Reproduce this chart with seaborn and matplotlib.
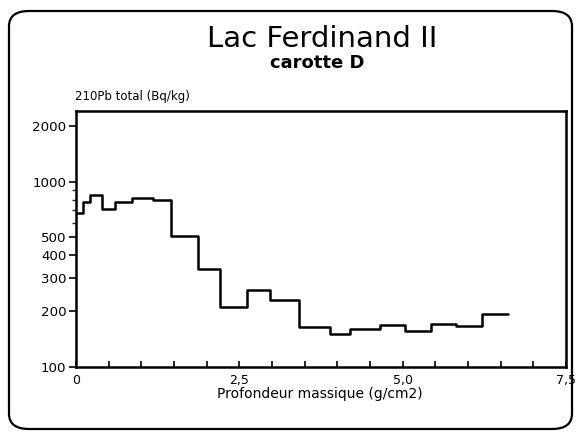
import matplotlib
matplotlib.use("Agg")
import matplotlib.pyplot as plt
from matplotlib.patches import FancyBboxPatch
from matplotlib.ticker import FixedLocator, FixedFormatter, NullFormatter
import numpy as np
import pandas as pd
import seaborn as sns

# Step profile of total 210Pb activity against cumulative mass depth
depth_edges = [0.0, 0.11, 0.21, 0.40, 0.60, 0.86, 1.18, 1.46, 1.87, 2.21, 2.61,
               2.97, 3.42, 3.89, 4.20, 4.66, 5.04, 5.43, 5.81, 6.22, 6.61]
pb210_total = [675, 774, 848, 712, 780, 815, 795, 511, 337, 210, 260,
               229, 163, 150, 160, 167, 155, 170, 166, 192]

y_ticks = [100, 200, 300, 400, 500, 1000, 2000]
y_tick_labels = ["100", "200", "300", "400", "500", "1000", "2000"]
y_minor_ticks = [600, 700, 800, 900]
x_ticks = [0.0, 2.5, 5.0, 7.5]
x_tick_labels = ["0", "2,5", "5,0", "7,5"]
x_minor_ticks = [0.5, 1.0, 1.5, 2.0, 3.0, 3.5, 4.0, 4.5, 5.5, 6.0, 6.5, 7.0]

sns.set_theme(style="white")
plt.rcParams["font.family"] = ["DejaVu Sans"]
plt.rcParams["text.color"] = "black"

W, H = 576, 436
fig = plt.figure(figsize=(W / 100, H / 100), dpi=100)
fig.patch.set_facecolor("white")

# rounded frame around the whole panel
frame = FancyBboxPatch((9 / W, 1 - 429 / H), 563 / W, 418 / H,
                       boxstyle="round,pad=0,rounding_size=0.035",
                       transform=fig.transFigure, fill=False,
                       edgecolor="black", linewidth=1.6)
fig.patches.append(frame)

ax = fig.add_axes([76 / W, 69.3 / H, 490 / W, 256 / H])

df = pd.DataFrame({
    "depth": depth_edges,
    "activity": pb210_total + [pb210_total[-1]],
})
sns.lineplot(data=df, x="depth", y="activity", ax=ax, color="black",
             linewidth=1.8, drawstyle="steps-post", estimator=None, sort=False)

ax.set_yscale("log")
ax.set_ylim(100, 2420)
ax.set_xlim(0, 7.5)

ax.yaxis.set_major_locator(FixedLocator(y_ticks))
ax.yaxis.set_major_formatter(FixedFormatter(y_tick_labels))
ax.yaxis.set_minor_locator(FixedLocator(y_minor_ticks))
ax.yaxis.set_minor_formatter(NullFormatter())
ax.xaxis.set_major_locator(FixedLocator(x_ticks))
ax.xaxis.set_major_formatter(FixedFormatter(x_tick_labels))
ax.xaxis.set_minor_locator(FixedLocator(x_minor_ticks))

ax.tick_params(axis="y", which="major", direction="out", length=5, width=1.2,
               labelsize=9.6, pad=2, left=True, colors="black")
ax.tick_params(axis="y", which="minor", direction="out", length=3, width=1.0,
               left=True)
ax.tick_params(axis="x", which="both", direction="in", length=4, width=1.2,
               labelsize=9, pad=5, bottom=True, colors="black")

for side in ["left", "right", "top", "bottom"]:
    ax.spines[side].set_visible(True)
    ax.spines[side].set_color("black")
    ax.spines[side].set_linewidth(1.8)

ax.set_xlabel("")
ax.set_ylabel("")
ax.grid(False)

fig.text(322 / W, 1 - 47 / H, "Lac Ferdinand II", ha="center", va="baseline",
         fontsize=21)
fig.text(317.5 / W, 1 - 67.5 / H, "carotte D", ha="center", va="baseline",
         fontsize=13, fontweight="bold")
fig.text(75 / W, 1 - 100 / H, "210Pb total (Bq/kg)", ha="left", va="baseline",
         fontsize=8.5)
fig.text(320 / W, 1 - 398 / H, "Profondeur massique (g/cm2)", ha="center",
         va="baseline", fontsize=10)

fig.savefig("out.png", dpi=100, facecolor="white")
